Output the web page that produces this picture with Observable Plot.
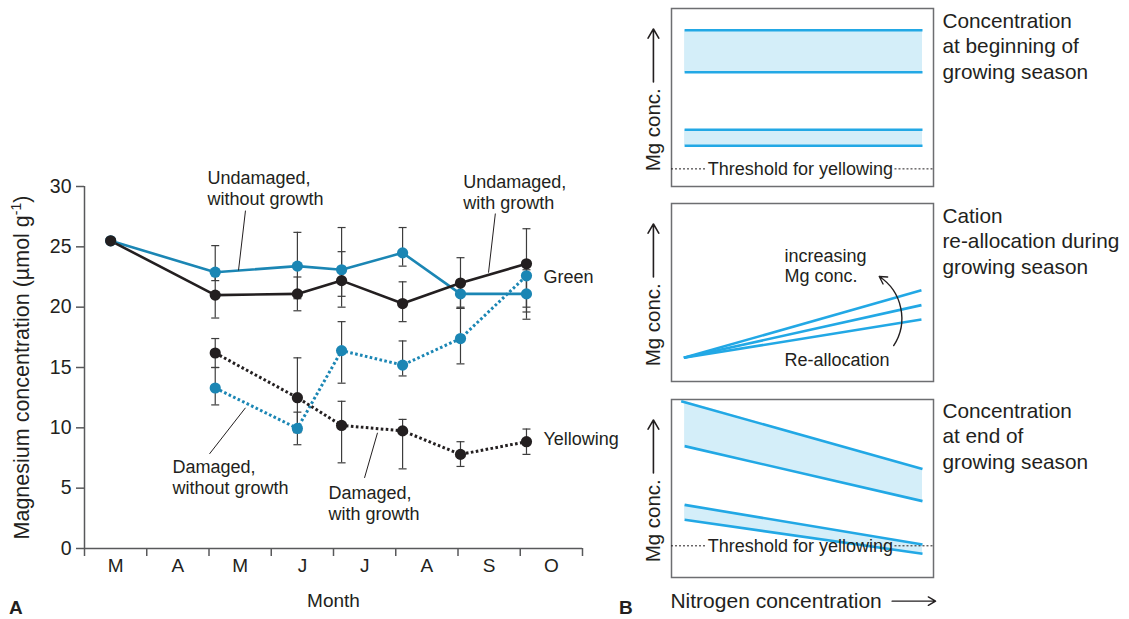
<!DOCTYPE html>
<html><head><meta charset="utf-8">
<script src="https://cdn.jsdelivr.net/npm/d3@7"></script>
<script src="https://cdn.jsdelivr.net/npm/@observablehq/plot@0.6"></script>
<style>
body{margin:0;background:#fff;}
#root{position:relative;width:1129px;height:619px;overflow:hidden;background:#fff;font-family:"Liberation Sans",Arial,Helvetica,sans-serif;color:#231f20;}
#root svg{overflow:visible;}
.plabel{position:absolute;font-weight:bold;font-size:19px;line-height:19px;}
</style></head><body><div id="root"></div>
<script>
// ---------- Panel A data ----------
const monthLabels = ["M","A","M","J","J","A","S","O"];
const yTicks = [0, 5, 10, 15, 20, 25, 30];
const sampleMonths = [0.42, 2.10, 3.42, 4.13, 5.11, 6.04, 7.10]; // months since 1 March
const seriesNames = ["Undamaged, without growth","Undamaged, with growth","Damaged, without growth","Damaged, with growth"];
const undamagedNoGrowth   = [25.5, 22.9, 23.4, 23.1, 24.5, 21.1, 21.1];
const undamagedNoGrowthLo = [null, 22.2, 20.7, 20.9, 23.4, 20.0, 19.0];
const undamagedNoGrowthHi = [null, 25.1, 26.2, 26.6, 26.6, 22.2, 23.1];
const undamagedGrowth     = [25.5, 21.0, 21.1, 22.2, 20.3, 22.0, 23.6];
const undamagedGrowthLo   = [null, 19.1, 19.7, 20.0, 18.8, 19.9, 19.6];
const undamagedGrowthHi   = [null, 22.9, 22.5, 24.6, 22.1, 24.1, 26.5];
const damagedNoGrowth     = [null, 13.3, 9.95, 16.4, 15.2, 17.4, 22.6];
const damagedNoGrowthLo   = [null, 11.9, 8.6, 13.7, 14.3, 15.3, 20.0];
const damagedNoGrowthHi   = [null, 15.0, 11.3, 18.8, 17.2, 19.9, 23.4];
const damagedGrowth       = [null, 16.2, 12.5, 10.2, 9.75, 7.8, 8.85];
const damagedGrowthLo     = [null, 15.0, 9.6, 7.1, 6.6, 6.8, 7.8];
const damagedGrowthHi     = [null, 17.4, 15.8, 12.2, 10.7, 8.85, 9.9];
const endLabels = ["Green", "Yellowing"];
const yLabelMain = "Magnesium concentration (µmol g", yLabelSup = "-1", yLabelEnd = ")";

// ---------- Panel B data (schematic, % of axis) ----------
const nitrogenSpan = [5.0, 95.8];
const beginBands = [[87.8, 64.2], [31.9, 22.9]];          // [top, bottom] Mg level
const reallocStart = 13.3;
const reallocEnds = [51.3, 42.9, 34.8];
const endBandsLeft = [[99.0, 73.8], [40.8, 32.4]];
const endBandsRight = [[61.0, 42.9], [18.5, 13.3]];
const thresholdBegin = 9.9, thresholdEnd = 17.8;
const boxTitles = ["Concentration\nat beginning of\ngrowing season", "Cation\nre-allocation during\ngrowing season", "Concentration\nat end of\ngrowing season"];

// ---------- styles ----------
const FONT = "'Liberation Sans', Arial, Helvetica, sans-serif";
const INK = "#231f20", AXIS = "#58595b", BLUE = "#1b86b4", ERR = "#3d3d3d";
const CYAN = "#22a8e5", CYAN_FILL = "#d4eef9";
const root = document.getElementById("root");
function place(el, left, top) {
  const d = document.createElement("div");
  d.style.position = "absolute"; d.style.left = left + "px"; d.style.top = top + "px";
  d.appendChild(el); root.appendChild(d);
}
const baseStyle = {fontFamily: FONT, fontSize: "18px", color: INK, background: "transparent", overflow: "visible"};

// ---------- Panel A ----------
const seriesDefs = [
  {name: seriesNames[0], v: undamagedNoGrowth, lo: undamagedNoGrowthLo, hi: undamagedNoGrowthHi, color: BLUE, dotted: false},
  {name: seriesNames[1], v: undamagedGrowth, lo: undamagedGrowthLo, hi: undamagedGrowthHi, color: INK, dotted: false},
  {name: seriesNames[2], v: damagedNoGrowth, lo: damagedNoGrowthLo, hi: damagedNoGrowthHi, color: BLUE, dotted: true},
  {name: seriesNames[3], v: damagedGrowth, lo: damagedGrowthLo, hi: damagedGrowthHi, color: INK, dotted: true}
];
const rowsOf = s => sampleMonths.map((m, i) => ({series: s.name, month: m, value: s.v[i], lo: s.lo[i], hi: s.hi[i]})).filter(d => d.value != null);
const errRows = seriesDefs.flatMap(rowsOf).filter(d => d.lo != null);
const capSymbol = {draw(ctx, size) { const r = Math.sqrt(size / Math.PI); ctx.moveTo(-r, 0); ctx.lineTo(r, 0); }};

// annotation layout (data coordinates)
const notes = [
  {text: "Undamaged,\nwithout growth", x: 1.976, y: 29.88},
  {text: "Undamaged,\nwith growth", x: 6.083, y: 29.53},
  {text: "Damaged,\nwithout growth", x: 1.414, y: 5.93},
  {text: "Damaged,\nwith growth", x: 3.92, y: 3.76}
];
const leaders = [
  {x1: 2.586, y1: 28.0, x2: 2.474, y2: 23.05},
  {x1: 6.60, y1: 27.76, x2: 6.49, y2: 22.86},
  {x1: 2.586, y1: 11.66, x2: 2.008, y2: 7.84},
  {x1: 4.707, y1: 9.59, x2: 4.498, y2: 5.85}
];
const endLabelPos = [{x: 7.373, y: 22.45}, {x: 7.373, y: 9.09}];

const marksA = [
  Plot.axisY({ticks: yTicks, tickSize: 8, tickPadding: 5, stroke: AXIS, strokeWidth: 1.5, label: null, fontSize: 19.5, fill: INK}),
  Plot.axisX({ticks: d3.range(monthLabels.length + 1), tickSize: 8, tickFormat: () => "", stroke: AXIS, strokeWidth: 1.5, label: null}),
  Plot.axisX({ticks: monthLabels.map((_, i) => i + 0.5), tickSize: 0, tickPadding: 10, tickFormat: d => monthLabels[Math.floor(d)], label: null, fontSize: 19, fill: INK}),
  Plot.ruleY([0], {stroke: AXIS, strokeWidth: 1.5}),
  Plot.ruleX([0], {stroke: AXIS, strokeWidth: 1.5}),
  Plot.ruleX(errRows, {x: "month", y1: "lo", y2: "hi", stroke: ERR, strokeWidth: 1.2}),
  Plot.dot(errRows, {x: "month", y: "lo", symbol: capSymbol, r: 4, stroke: ERR, strokeWidth: 1.2, fill: "none"}),
  Plot.dot(errRows, {x: "month", y: "hi", symbol: capSymbol, r: 4, stroke: ERR, strokeWidth: 1.2, fill: "none"}),
  ...seriesDefs.map(s => Plot.line(rowsOf(s), s.dotted
     ? {x: "month", y: "value", stroke: s.color, strokeWidth: 3, strokeDasharray: "2.6 2.4", strokeLinecap: "butt", strokeLinejoin: "miter"}
     : {x: "month", y: "value", stroke: s.color, strokeWidth: 2.6, strokeLinejoin: "round"})),
  ...seriesDefs.map(s => Plot.dot(rowsOf(s), {x: "month", y: "value", r: 5.6, fill: s.color})),
  Plot.link(leaders, {x1: "x1", y1: "y1", x2: "x2", y2: "y2", stroke: INK, strokeWidth: 1}),
  Plot.text(notes, {x: "x", y: "y", text: "text", textAnchor: "start", lineAnchor: "middle", lineHeight: 1.17, fontSize: 18, fill: INK}),
  Plot.text(endLabels, {x: (d, i) => endLabelPos[i].x, y: (d, i) => endLabelPos[i].y, text: d => d, textAnchor: "start", fontSize: 18, fill: INK}),
  Plot.text(["Month"], {frameAnchor: "bottom", dy: 58, fontSize: 19, fill: INK}),
  Plot.text([yLabelMain + yLabelSup + yLabelEnd], {frameAnchor: "left", textAnchor: "middle", dx: -62, rotate: -90, fontSize: 21.5, fill: INK, className: "ylab"})
];

const plotA = Plot.plot({
  width: 620, height: 619,
  marginLeft: 84, marginRight: 38, marginTop: 186, marginBottom: 71,
  style: baseStyle,
  x: {domain: [0, monthLabels.length], axis: null},
  y: {domain: [0, 30], axis: null},
  marks: marksA
});
// superscript in y label
const yl = plotA.querySelector("g.ylab text");
if (yl) {
  const NS = "http://www.w3.org/2000/svg";
  yl.textContent = "";
  const a = document.createElementNS(NS, "tspan"); a.textContent = yLabelMain;
  const b = document.createElementNS(NS, "tspan"); b.textContent = yLabelSup; b.setAttribute("font-size", "14"); b.setAttribute("dy", "-8");
  const c = document.createElementNS(NS, "tspan"); c.textContent = yLabelEnd; c.setAttribute("dy", "8");
  yl.append(a, b, c);
}
place(plotA, 0, 0);

// ---------- Panel B ----------
function mgAxis() {
  return [
    Plot.text(["Mg conc."], {x: -6.9, y: 8.5, rotate: -90, textAnchor: "start", fontSize: 20.5, fill: INK}),
    Plot.arrow([{x: -6.9, y1: 58.7, y2: 88.5}], {x1: "x", x2: "x", y1: "y1", y2: "y2", stroke: INK, strokeWidth: 1.6, headLength: 10})
  ];
}
function titleMark(t, y) {
  return Plot.text([t], {x: 103.4, y, textAnchor: "start", lineAnchor: "middle", lineHeight: 1.23, fontSize: 20.8, fill: INK});
}
function thresholdMarks(y) {
  return [
    Plot.ruleY([{y, x1: 0, x2: 13.2}, {y, x1: 85.3, x2: 100}], {y: "y", x1: "x1", x2: "x2", stroke: INK, strokeWidth: 1, strokeDasharray: "2 2"}),
    Plot.text(["Threshold for yellowing"], {x: 49.2, y, fontSize: 18, fill: INK})
  ];
}
function boxPlot(h, mb, marks) {
  return Plot.plot({
    width: 509, height: h, marginLeft: 51, marginRight: 196, marginTop: 8, marginBottom: mb,
    style: baseStyle,
    x: {domain: [0, 100], axis: null}, y: {domain: [0, 100], axis: null},
    marks: [Plot.frame({stroke: "#6d6e71", strokeWidth: 1.5}), ...marks]
  });
}
const [nx0, nx1] = nitrogenSpan;

// Box 1
const box1 = boxPlot(200, 14, [
  ...beginBands.map(b => Plot.areaY([{x: nx0, t: b[0], u: b[1]}, {x: nx1, t: b[0], u: b[1]}], {x: "x", y1: "u", y2: "t", fill: CYAN_FILL})),
  ...beginBands.flatMap(b => b.map(v => Plot.link([{x1: nx0, x2: nx1, v}], {x1: "x1", x2: "x2", y1: "v", y2: "v", stroke: CYAN, strokeWidth: 2.6}))),
  ...thresholdMarks(thresholdBegin),
  ...mgAxis(),
  titleMark(boxTitles[0], 79.4)
]);
place(box1, 620, 0);

// Box 2
const box2 = boxPlot(200, 14, [
  Plot.link(reallocEnds.map(e => ({x1: 4.7, y1: reallocStart, x2: 95.4, y2: e})), {x1: "x1", y1: "y1", x2: "x2", y2: "y2", stroke: CYAN, strokeWidth: 2.6}),
  Plot.text(["increasing\nMg conc."], {x: 43.1, y: 65.2, textAnchor: "start", lineAnchor: "middle", lineHeight: 1.12, fontSize: 18, fill: INK}),
  Plot.text(["Re-allocation"], {x: 43.1, y: 11.8, textAnchor: "start", fontSize: 18, fill: INK}),
  Plot.arrow([{x1: 84.8, y1: 20.2, x2: 79.3, y2: 59.0}], {x1: "x1", y1: "y1", x2: "x2", y2: "y2", bend: -45, stroke: INK, strokeWidth: 1.4, headLength: 9}),
  ...mgAxis(),
  titleMark(boxTitles[1], 79.4)
]);
place(box2, 620, 195);

// Box 3
const box3 = boxPlot(228, 42, [
  ...endBandsLeft.map((l, i) => Plot.areaY([{x: nx0, t: l[0], u: l[1]}, {x: nx1, t: endBandsRight[i][0], u: endBandsRight[i][1]}], {x: "x", y1: "u", y2: "t", fill: CYAN_FILL})),
  ...endBandsLeft.flatMap((l, i) => [0, 1].map(k => Plot.link([{x1: k === 0 && i === 0 ? 3.7 : nx0, y1: l[k], x2: nx1, y2: endBandsRight[i][k]}], {x1: "x1", y1: "y1", x2: "x2", y2: "y2", stroke: CYAN, strokeWidth: 2.6}))),
  ...thresholdMarks(thresholdEnd),
  ...mgAxis(),
  titleMark(boxTitles[2], 79.9),
  Plot.text(["Nitrogen concentration"], {x: -0.4, y: -13.3, textAnchor: "start", fontSize: 21, fill: INK}),
  Plot.arrow([{x1: 84.2, x2: 100.8, y: -13.3}], {x1: "x1", x2: "x2", y1: "y", y2: "y", stroke: INK, strokeWidth: 1.4, headLength: 9})
]);
place(box3, 620, 391);

// panel letters
for (const [t, l] of [["A", 9], ["B", 619]]) {
  const d = document.createElement("div"); d.className = "plabel"; d.textContent = t;
  d.style.left = l + "px"; d.style.top = "598px"; root.appendChild(d);
}
</script></body></html>
